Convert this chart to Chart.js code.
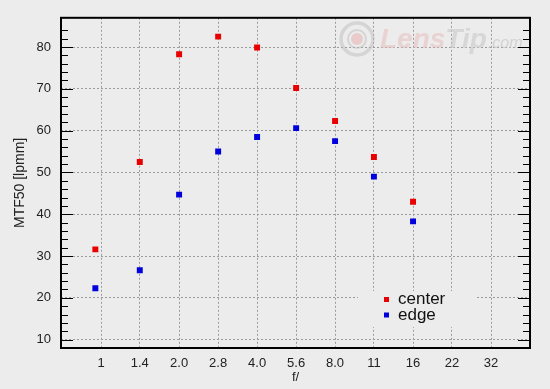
<!DOCTYPE html>
<html>
<head>
<meta charset="utf-8">
<script src="https://cdn.jsdelivr.net/npm/chart.js@4/dist/chart.umd.min.js"></script>
<style>
html,body{margin:0;padding:0;background:#ececec;}
#wrap{width:550px;height:389px;}
</style>
</head>
<body>
<div id="wrap"><canvas id="c" width="550" height="389"></canvas></div>
<script>
// f-numbers where measurements were taken
const fNumbers = [0.95, 1.41, 2, 2.83, 4, 5.66, 8, 11.3, 16];
const centerMTF = [31.6, 52.5, 78.3, 82.5, 79.9, 70.2, 62.3, 53.7, 43.0];
const edgeMTF   = [22.3, 26.6, 44.7, 55.0, 58.5, 60.6, 57.5, 49.0, 38.3];
const xTickValues = [1, 1.41, 2, 2.83, 4, 5.66, 8, 11.3, 16, 22.6, 32];
const xTickLabels = ['1', '1.4', '2.0', '2.8', '4.0', '5.6', '8.0', '11', '16', '22', '32'];
const yTickValues = [10, 20, 30, 40, 50, 60, 70, 80];
const yMinorTicks = [10,12,14,16,18,20,22,24,26,28,30,32,34,36,38,40,42,44,46,48,50,52,54,56,58,60,62,64,66,68,70,72,74,76,78,80,82,84];

const FONT = "'Liberation Sans', Arial, sans-serif";

const watermark = {
  id: 'watermark',
  beforeDatasetsDraw(chart) {
    const ctx = chart.ctx;
    ctx.save();
    ctx.strokeStyle = 'rgba(190,190,190,0.5)';
    ctx.lineWidth = 3.5;
    ctx.beginPath(); ctx.arc(357, 39, 16, 0, Math.PI * 2); ctx.stroke();
    ctx.lineWidth = 2;
    ctx.beginPath(); ctx.arc(357, 39, 9, 0, Math.PI * 2); ctx.stroke();
    ctx.fillStyle = 'rgba(230,170,170,0.5)';
    ctx.beginPath(); ctx.arc(357, 39, 6, 0, Math.PI * 2); ctx.fill();
    ctx.textBaseline = 'alphabetic';
    ctx.font = "italic bold 28px " + FONT;
    ctx.fillStyle = 'rgba(232,190,190,0.55)';
    ctx.fillText('Lens', 380, 48);
    const w = ctx.measureText('Lens').width;
    ctx.fillStyle = 'rgba(205,205,205,0.65)';
    ctx.fillText('Tip', 380 + w, 48);
    const w2 = ctx.measureText('Tip').width;
    ctx.font = "italic 16px " + FONT;
    ctx.fillStyle = 'rgba(200,200,200,0.7)';
    ctx.fillText('.com', 380 + w + w2 + 1, 48);
    ctx.restore();
  }
};

const frame = {
  id: 'frame',
  afterDatasetsDraw(chart) {
    const ctx = chart.ctx;
    const a = chart.chartArea;
    const y = chart.scales.y;
    ctx.save();
    ctx.strokeStyle = '#000';
    ctx.lineWidth = 1;
    ctx.beginPath();
    yMinorTicks.forEach(v => {
      const py = Math.round(y.getPixelForValue(v)) + 0.5;
      const len = (v % 10 === 0) ? 12 : 7;
      ctx.moveTo(a.left, py); ctx.lineTo(a.left + len, py);
      ctx.moveTo(a.right, py); ctx.lineTo(a.right - len, py);
    });
    ctx.stroke();
    ctx.lineWidth = 2;
    ctx.strokeRect(a.left, a.top, a.right - a.left, a.bottom - a.top);
    // legend inside the plot
    const lx = 358, ly = 291;
    ctx.fillStyle = '#ececec';
    ctx.fillRect(lx, ly, 118, 36);
    ctx.font = "17px " + FONT;
    ctx.textBaseline = 'middle';
    chart.data.datasets.forEach((ds, i) => {
      const cy = 299.5 + i * 15.5;
      ctx.fillStyle = ds.backgroundColor;
      ctx.fillRect(384, cy - 2.5, 5, 5);
      ctx.fillStyle = '#111';
      ctx.fillText(ds.label, 398, cy);
    });
    ctx.restore();
  }
};

new Chart(document.getElementById('c'), {
  type: 'scatter',
  data: {
    datasets: [
      { label: 'center', data: fNumbers.map((f, i) => ({ x: f, y: centerMTF[i] })),
        backgroundColor: '#e80000', borderWidth: 0, pointStyle: 'rect', pointRadius: 4.2 },
      { label: 'edge', data: fNumbers.map((f, i) => ({ x: f, y: edgeMTF[i] })),
        backgroundColor: '#0000dd', borderWidth: 0, pointStyle: 'rect', pointRadius: 4.2 }
    ]
  },
  options: {
    responsive: false,
    devicePixelRatio: 1,
    animation: false,
    layout: { padding: { top: 16, right: 20, left: 0, bottom: 0 } },
    plugins: { legend: { display: false }, tooltip: { enabled: false } },
    scales: {
      x: {
        type: 'logarithmic',
        min: 0.7071, max: 45.25,
        afterBuildTicks: s => { s.ticks = xTickValues.map(v => ({ value: v })); },
        afterFit: s => { s.height = 41; },
        ticks: {
          autoSkip: false, maxRotation: 0, padding: 8,
          font: { family: FONT, size: 13 }, color: '#222',
          callback: (v, i) => xTickLabels[i]
        },
        grid: { color: '#9a9a9a', lineWidth: 1, drawTicks: false },
        border: { display: false, dash: [2, 2] },
        title: { display: true, text: 'f/', font: { family: FONT, size: 13 }, color: '#222', padding: { top: 0, bottom: 4 } }
      },
      y: {
        type: 'linear',
        min: 8, max: 87,
        afterBuildTicks: s => { s.ticks = yTickValues.map(v => ({ value: v })); },
        afterFit: s => { s.width = 61; },
        ticks: { padding: 10, font: { family: FONT, size: 13 }, color: '#222' },
        grid: { color: '#9a9a9a', lineWidth: 1, drawTicks: false },
        border: { display: false, dash: [2, 2] },
        title: { display: true, text: 'MTF50 [lpmm]', font: { family: FONT, size: 14 }, color: '#222', padding: { top: 12, bottom: 0 } }
      }
    }
  },
  plugins: [watermark, frame]
});
</script>
</body>
</html>
